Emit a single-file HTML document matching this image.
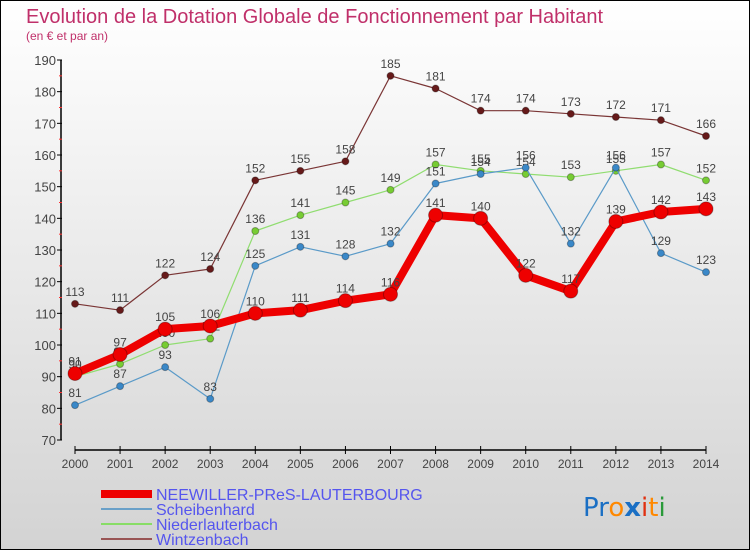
<!DOCTYPE html>
<html><head><meta charset="utf-8"><style>
html,body{margin:0;padding:0}
body{width:750px;height:550px;overflow:hidden;font-family:"Liberation Sans",sans-serif}
#wrap{position:relative;width:748px;height:548px;border:1px solid #000;background:linear-gradient(#ffffff,#d3d3d3)}
</style></head><body>
<div id="wrap">
<svg id="chart" width="748" height="548" xmlns="http://www.w3.org/2000/svg">
<text x="25" y="22" font-size="20" fill="#c0306a">Evolution de la Dotation Globale de Fonctionnement par Habitant</text>
<text x="25" y="39" font-size="12" fill="#c0306a">(en € et par an)</text>
<g id="axes"></g><g id="series"></g>
<g>
<rect x="100" y="489" width="51" height="8" fill="#e00"/>
<text x="155" y="499" font-size="16" fill="#5555ee">NEEWILLER-PReS-LAUTERBOURG</text>
<line x1="100" y1="508" x2="151" y2="508" stroke="#6aa0c8" stroke-width="2"/>
<text x="155" y="514" font-size="16" fill="#5555ee">Scheibenhard</text>
<line x1="100" y1="523" x2="151" y2="523" stroke="#88dd66" stroke-width="2"/>
<text x="155" y="529" font-size="16" fill="#5555ee">Niederlauterbach</text>
<line x1="100" y1="538" x2="151" y2="538" stroke="#995555" stroke-width="2"/>
<text x="155" y="544" font-size="16" fill="#5555ee">Wintzenbach</text>
</g>
<g font-size="26" font-family="'DejaVu Sans',sans-serif">
<text x="582" y="515"><tspan fill="#1a6fc4">Pr</tspan><tspan fill="#2a9a3a" font-size="0"></tspan><tspan fill="#ff8800">o</tspan><tspan fill="#1a6fc4" font-weight="bold">x</tspan><tspan fill="#e03010">i</tspan><tspan fill="#ff8800">t</tspan><tspan fill="#2a9a3a">i</tspan></text>
</g>
</svg>
</div>
<script>
const years=[2000,2001,2002,2003,2004,2005,2006,2007,2008,2009,2010,2011,2012,2013,2014];
const yTicks=[70,80,90,100,110,120,130,140,150,160,170,180,190];
const neewiller=[91,97,105,106,110,111,114,116,141,140,122,117,139,142,143];
const scheibenhard=[81,87,93,83,125,131,128,132,151,154,156,132,156,129,123];
const niederlauterbach=[90,94,100,102,136,141,145,149,157,155,154,153,155,157,152];
const wintzenbach=[113,111,122,124,152,155,158,185,181,174,174,173,172,171,166];
const NS="http://www.w3.org/2000/svg";
const xS=i=>74+i*(631/(years.length-1));
const yS=v=>439-(v-70)*(380/120);
function mk(tag,attrs,parent){const e=document.createElementNS(NS,tag);for(const k in attrs)e.setAttribute(k,attrs[k]);parent.appendChild(e);return e;}
const ax=document.getElementById('axes');
const yAxis=mk('line',{x1:60,y1:yS(190),x2:60,y2:yS(70),stroke:'#000','stroke-width':1.5},ax);


yTicks.forEach(t=>{
 mk('line',{x1:56,y1:yS(t),x2:61,y2:yS(t),stroke:'#000'},ax);
 if(t<190) mk('line',{x1:58,y1:yS(t+5),x2:61,y2:yS(t+5),stroke:'#f33'},ax);
 const tx=mk('text',{x:55,y:yS(t)+5,'font-size':13,fill:'#444','text-anchor':'end'},ax);
 tx.textContent=t;
 
 
});
const xAxis=mk('line',{x1:xS(0),y1:449,x2:xS(14),y2:449,stroke:'#000','stroke-width':1.5},ax);


years.forEach((y,i)=>{
 mk('line',{x1:xS(i),y1:445,x2:xS(i),y2:453,stroke:'#000'},ax);
 const tx=mk('text',{x:xS(i),y:467,'font-size':12,fill:'#444','text-anchor':'middle'},ax);
 tx.textContent=y;
 
 
});
const sg=document.getElementById('series');
function series(data,color,width,r,dot,name){
 const g=mk('g',{},sg);
 
 
 const pl=mk('polyline',{points:data.map((v,i)=>xS(i)+','+yS(v)).join(' '),fill:'none',stroke:color,'stroke-width':width,'stroke-linejoin':'round'},g);
 
 
 data.forEach((v,i)=>{
  const c=mk('circle',{cx:xS(i),cy:yS(v),r:r,fill:dot,stroke:'rgba(0,0,0,0.3)'},g);
  
  
  const t=mk('text',{x:xS(i),y:yS(v)-8,'font-size':12,fill:'#444','text-anchor':'middle'},g);
  t.textContent=v;
  
  
 });
}
series(wintzenbach,'#7a3535',1.2,3.5,'#661a1a','wintzenbach');
series(niederlauterbach,'#90dd70',1.2,3.5,'#77cc33','niederlauterbach');
series(scheibenhard,'#5a9ac8',1.2,3.5,'#3a88c8','scheibenhard');
series(neewiller,'#ee0000',8,7,'#ee0000','neewiller');
</script>
</body></html>
